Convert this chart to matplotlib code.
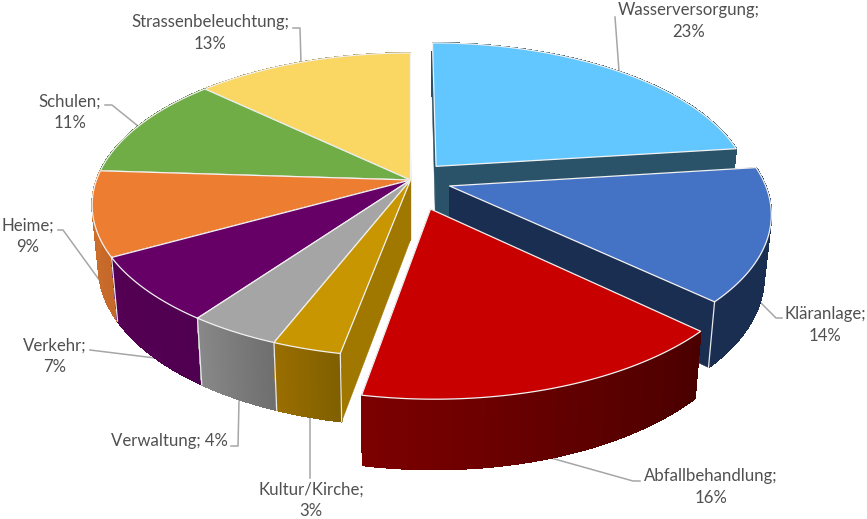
import numpy as np
import matplotlib
matplotlib.use("Agg")
import matplotlib.pyplot as plt
from matplotlib.patches import Polygon
from matplotlib.colors import to_rgb

categories = ["Wasserversorgung", "Kläranlage", "Abfallbehandlung", "Kultur/Kirche", "Verwaltung",
              "Verkehr", "Heime", "Schulen", "Strassenbeleuchtung"]
values = [23, 14, 16, 3, 4, 7, 9, 11, 13]
explode = [0.125, 0.13, 0.2, 0, 0, 0, 0, 0, 0]

top_colors = ["#63C7FF", "#4472C4", "#C80000", "#C89600", "#A5A5A5", "#660066", "#ED7D31", "#70AD47", "#FAD663"]
radial_colors = ["#2A5268", "#1A2E52", "#500000", "#A07800", "#808080", "#500050", "#B85F28", "#4A7530", "#A89040"]
wall_left = ["#2A5268", "#1A2E52", "#7C0000", "#9A6E00", "#888888", "#540054", "#D0702C", "#4A7530", "#A89040"]
wall_right = ["#2A5268", "#1A2E52", "#4A0000", "#7F5F00", "#6E6E6E", "#500050", "#C4682A", "#4A7530", "#A89040"]
seam = [False, True, False, True, True, True, True, False, False]

# label text anchor (centre of the block) and leader line, in pixels
label_pos = [(689, 21), (825, 325), (711, 487), (311, 500), (169, 441), (55, 356), (28, 236), (70, 112), (210, 33)]
leaders = [
    [(615, 17), (619, 71)],
    [(761, 303), (776, 318), (782, 318)],
    [(551, 458), (633, 481), (640, 481)],
    [(310, 418), (310, 478)],
    [(239, 401), (238, 446), (231, 446)],
    [(155, 358), (90, 350)],
    [(58, 230), (63, 230), (100, 281)],
    [(105, 105), (112, 105), (138, 126)],
    [(293, 28), (300, 28), (301, 63)],
]

CX, CY = 410.5, 180
RX, RY = 314, 148
PERSP = 0.165
HEIGHT = 60
BOTTOM_SCALE = 0.98


def project(x, y, bottom=False):
    """Unit disc coordinates to pixels, with a simple perspective."""
    f = 1 / (1 + PERSP * y)
    s = BOTTOM_SCALE if bottom else 1
    return CX + x * RX * f * s, CY - y * RY * f * s + (HEIGHT * f if bottom else 0)


def mix(c1, c2, t):
    a, b = np.array(to_rgb(c1)), np.array(to_rgb(c2))
    return tuple(a + (b - a) * t)


fig = plt.figure(figsize=(8.67, 5.19), dpi=100)
ax = fig.add_axes([0, 0, 1, 1])
ax.set_xlim(0, 867)
ax.set_ylim(519, 0)
ax.axis("off")

for line in leaders:
    ax.plot([p[0] for p in line], [p[1] for p in line], color="#A6A6A6", lw=1.1, zorder=1)

fracs = np.cumsum([0] + values) / sum(values)
slices = []
for i in range(len(values)):
    a0, a1 = fracs[i] * 2 * np.pi, fracs[i + 1] * 2 * np.pi
    mid = (a0 + a1) / 2
    ox, oy = explode[i] * np.sin(mid), explode[i] * np.cos(mid)
    slices.append((oy + np.cos(mid), i, a0, a1, ox, oy))

# back to front
for depth, (_, i, a0, a1, ox, oy) in enumerate(sorted(slices, reverse=True)):
    z = 2 + depth
    t = np.linspace(a0, a1, 80)
    xs, ys = ox + np.sin(t), oy + np.cos(t)
    tip = project(ox, oy)
    tip_b = project(ox, oy, True)

    # radial walls
    for k in (0, -1):
        wall = [tip, project(xs[k], ys[k]), project(xs[k], ys[k], True), tip_b]
        ax.add_patch(Polygon(wall, closed=True, fc=radial_colors[i], ec=radial_colors[i], lw=0.3, zorder=z))
    # outer wall, shaded in thin strips (no antialiasing or the joins show)
    for j in range(len(t) - 1):
        quad = [project(xs[j], ys[j]), project(xs[j + 1], ys[j + 1]),
                project(xs[j + 1], ys[j + 1], True), project(xs[j], ys[j], True)]
        col = mix(wall_left[i], wall_right[i], 1 - j / (len(t) - 2))
        ax.add_patch(Polygon(quad, closed=True, fc=col, ec=col, lw=0.6, zorder=z, antialiased=False))
    if seam[i]:
        for k in (0, -1):
            if ys[k] < 0:
                p, q = project(xs[k], ys[k]), project(xs[k], ys[k], True)
                ax.plot([p[0], q[0]], [p[1], q[1]], color="#E8E8E8", lw=0.9, zorder=z)
    # top face
    top = [tip] + [project(x, y) for x, y in zip(xs, ys)]
    ax.add_patch(Polygon(top, closed=True, fc=top_colors[i], ec="#F2F2F2", lw=0.9, zorder=z, joinstyle="round"))

for i, cat in enumerate(categories):
    sep = " " if cat == "Verwaltung" else "\n"
    ax.text(label_pos[i][0], label_pos[i][1], f"{cat};{sep}{values[i]}%", ha="center", va="center",
            multialignment="center", family="Lato", fontsize=12.1, color="#505050", linespacing=1.4, zorder=50)

fig.savefig("out.png", dpi=100, facecolor="white")
